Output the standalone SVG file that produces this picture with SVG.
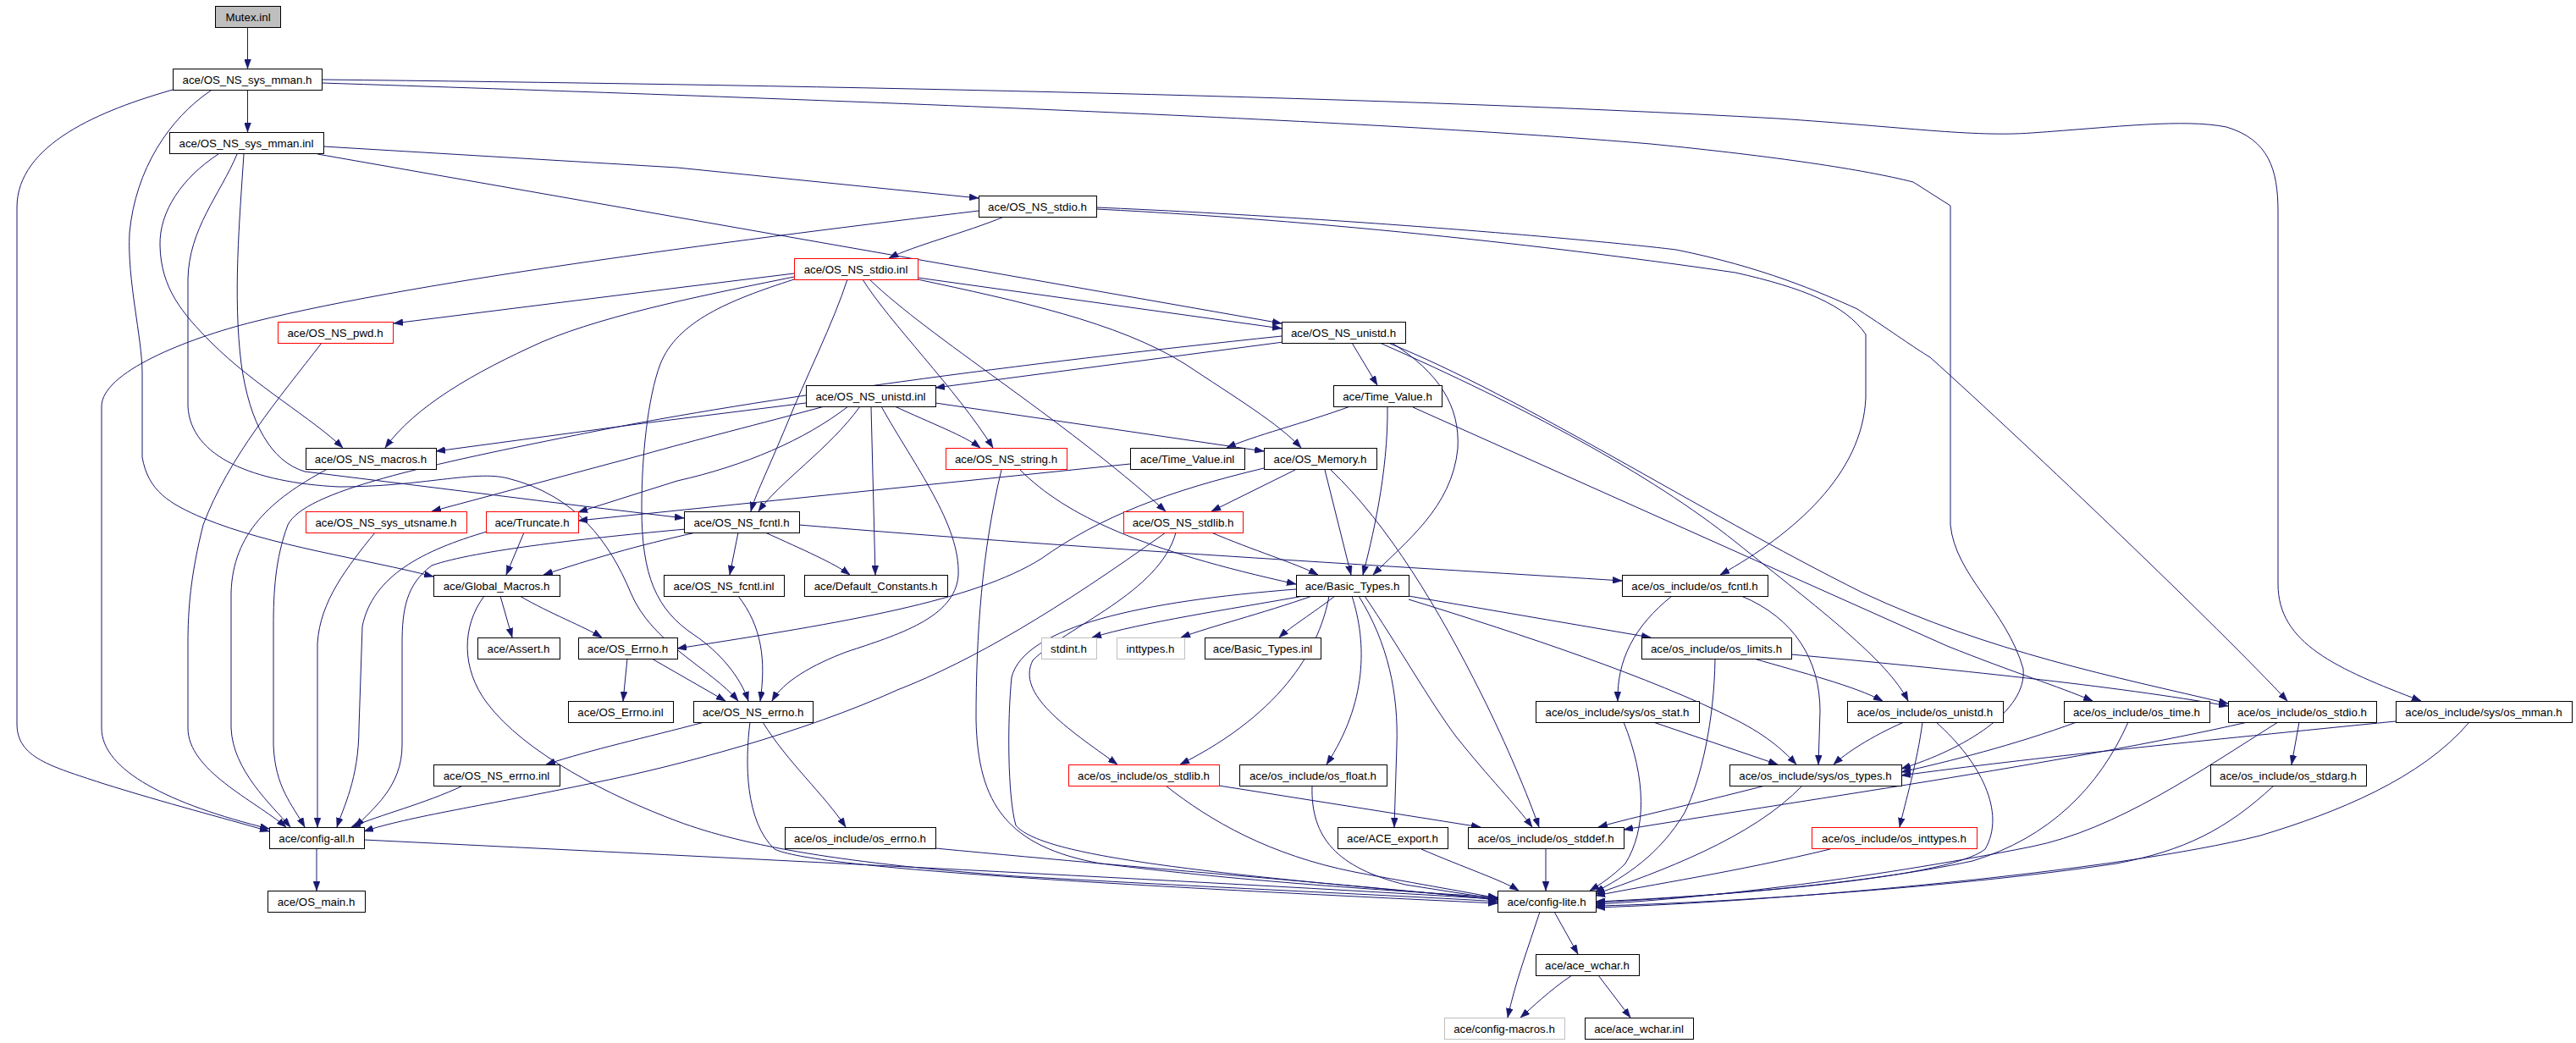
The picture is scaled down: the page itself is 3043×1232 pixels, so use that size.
<svg xmlns="http://www.w3.org/2000/svg" width="3043" height="1232" viewBox="0 0 3043 1232">
<style>
rect{fill:#fff;stroke:#000;stroke-width:1}
.red rect{stroke:#f00}
.gry rect{stroke:#bfbfbf}
.root rect{fill:#bfbfbf}
text{font-family:"Liberation Sans",Arial,sans-serif;font-size:13.3px;text-anchor:middle;fill:#000}
#edges path{fill:none;stroke:#191970;stroke-width:1;marker-end:url(#a)}
</style>
<defs>
<marker id="a" viewBox="0 0 11 8" refX="11" refY="4" markerWidth="11" markerHeight="8" markerUnits="userSpaceOnUse" orient="auto"><path d="M0,0 L11,4 L0,8 z" fill="#191970" stroke="#191970" stroke-width="0.5"/></marker>
</defs>
<rect x="0" y="0" width="3043" height="1232" style="stroke:none;fill:#fff"/>
<g id="edges">
<path d="M292.5,32 L292.5,81"/>
<path d="M292.5,107 L292.5,156"/>
<path d="M204,106 C120,130 20,170 20,245 L20,855 C20,895 60,905 120,925 C200,950 260,965 318,982"/>
<path d="M249,107 C200,140 160,200 153,275 C150,330 168,400 168,440 L168,540 C175,580 200,595 240,612 C320,645 430,660 512,681"/>
<path d="M380,94 C900,100 1600,112 2100,140 C2250,150 2330,162 2400,157 C2500,150 2580,140 2630,150 C2680,165 2691,200 2691,250 L2691,690 C2691,760 2760,790 2860,828"/>
<path d="M380,98 C900,115 1600,140 1950,170 C2100,185 2200,200 2260,215 L2304,243 L2304,620 C2310,680 2370,720 2390,790 C2395,840 2320,885 2246,908"/>
<path d="M382,173 L800,198 L1156,234"/>
<path d="M375,182 L1514,382"/>
<path d="M258,182 C215,210 188,250 189,290 C190,340 215,370 250,405 C300,455 370,495 405,529"/>
<path d="M280,182 C260,230 223,270 222,330 L222,480 C225,540 300,570 400,575 C500,575 560,555 600,565 C680,585 720,640 745,700 C770,760 840,790 872,828"/>
<path d="M288,182 C283,260 275,350 285,430 C295,500 320,545 360,557 L690,598 L808,612"/>
<path d="M1186,256 C1140,275 1080,290 1050,305"/>
<path d="M1156,249 C900,280 500,330 300,380 C220,400 120,440 120,480 L120,860 C120,910 200,950 318,979"/>
<path d="M1295,247 C1600,262 1900,300 2050,322 C2130,340 2180,360 2204,395 L2204,470 C2200,560 2120,630 2032,679"/>
<path d="M1295,245 C1600,258 1900,285 1980,295 C2080,315 2150,345 2194,365 C2240,395 2260,410 2280,422 C2400,530 2620,740 2702,828"/>
<path d="M938,323 L800,340 L465,382"/>
<path d="M938,327 C850,345 720,370 640,404 C560,440 490,480 455,529"/>
<path d="M938,330 C860,355 800,380 780,430 C765,470 758,540 758,600 C758,680 775,720 820,750 C850,770 875,800 884,828"/>
<path d="M1001,330 C985,380 950,450 930,500 C905,560 892,585 887,604"/>
<path d="M1019,330 C1050,380 1130,460 1173,529"/>
<path d="M1027,330 C1100,400 1250,490 1377,604"/>
<path d="M1084,328 L1514,388"/>
<path d="M1084,330 C1200,355 1320,380 1400,430 C1460,470 1510,500 1537,529"/>
<path d="M380,405 C330,470 270,540 240,620 C225,680 222,720 222,760 L222,860 C222,910 300,945 338,977"/>
<path d="M1516,404 L1105,458"/>
<path d="M1597,405 L1627,455"/>
<path d="M1644,405 C1700,440 1725,480 1722,530 C1715,600 1660,640 1622,679"/>
<path d="M1514,397 C1200,430 900,470 700,510 C500,550 360,580 340,620 C325,660 323,700 323,740 L323,880 C325,930 345,950 360,977"/>
<path d="M1630,405 C1800,480 1950,560 2050,640 C2150,720 2230,780 2254,828"/>
<path d="M1640,405 C1800,470 2000,600 2200,700 C2350,770 2500,800 2632,831"/>
<path d="M1669,481 L2300,763 C2380,795 2430,810 2472,828"/>
<path d="M952,476 L760,500 L515,533"/>
<path d="M974,480 C900,500 820,520 760,537 L510,604"/>
<path d="M1002,480 C950,520 880,550 800,568 L683,605"/>
<path d="M1016,480 C980,530 920,570 896,604"/>
<path d="M1029,480 L1034,679"/>
<path d="M1041,480 C1080,550 1135,620 1132,680 C1128,730 1060,750 1000,770 C960,785 925,805 912,828"/>
<path d="M1057,480 C1100,500 1140,515 1158,529"/>
<path d="M1105,476 L1493,533"/>
<path d="M1595,480 C1540,500 1480,515 1449,529"/>
<path d="M1639,480 C1640,560 1620,640 1610,679"/>
<path d="M1335,548 L683,615"/>
<path d="M1565,555 L1596,679"/>
<path d="M1530,555 L1431,604"/>
<path d="M1493,553 C1380,580 1300,610 1230,660 C1150,710 1000,735 800,766"/>
<path d="M1572,555 C1640,620 1700,720 1750,820 C1780,880 1805,940 1818,977"/>
<path d="M1205,555 C1260,610 1350,650 1531,690"/>
<path d="M1183,555 C1160,650 1153,750 1153,850 C1155,950 1190,1000 1300,1020 C1500,1045 1700,1055 1769,1060"/>
<path d="M1431,629 C1480,650 1530,665 1557,679"/>
<path d="M1377,629 C1250,720 1150,780 1060,815 C950,865 800,905 700,925 C580,950 480,965 430,982"/>
<path d="M1389,629 C1370,700 1260,740 1220,780 C1200,820 1260,860 1320,903"/>
<path d="M810,625 C700,635 560,650 510,668 C480,690 475,720 475,760 L475,880 C475,930 440,955 420,977"/>
<path d="M822,629 C750,645 700,660 642,679"/>
<path d="M872,629 L862,679"/>
<path d="M904,629 C950,650 985,665 1004,679"/>
<path d="M944,620 C1300,650 1700,672 1916,686"/>
<path d="M619,629 L598,679"/>
<path d="M575,628 C500,650 440,680 428,740 L424,860 C424,920 405,955 398,977"/>
<path d="M443,629 C410,670 378,710 375,760 L375,977"/>
<path d="M385,555 C320,590 275,630 273,700 L273,860 C275,910 320,950 343,977"/>
<path d="M591,704 L605,753"/>
<path d="M614,704 C650,725 690,740 711,753"/>
<path d="M572,704 C545,740 545,790 575,830 C620,890 720,940 800,970 C880,1000 1000,1020 1200,1035 C1500,1052 1700,1060 1769,1065"/>
<path d="M741,778 L736,828"/>
<path d="M770,778 L857,828"/>
<path d="M872,704 C900,740 905,780 898,828"/>
<path d="M832,853 C760,872 700,885 645,903"/>
<path d="M886,853 C880,900 880,970 915,1003 C960,1025 1300,1045 1769,1067"/>
<path d="M901,853 C930,900 975,940 999,977"/>
<path d="M547,928 C500,950 450,962 415,977"/>
<path d="M374,1003 L374,1052"/>
<path d="M430,992 C900,1015 1400,1040 1769,1062"/>
<path d="M1105,1002 C1400,1030 1600,1045 1769,1063"/>
<path d="M1377,928 C1430,970 1500,1010 1600,1030 C1680,1045 1740,1055 1769,1061"/>
<path d="M1440,928 L1749,977"/>
<path d="M1550,928 C1548,990 1580,1025 1660,1045 L1769,1062"/>
<path d="M1679,1003 C1730,1025 1775,1040 1794,1052"/>
<path d="M1826,1003 L1826,1052"/>
<path d="M1918,853 C1945,920 1945,980 1920,1020 C1905,1035 1890,1045 1878,1052"/>
<path d="M1953,853 L2100,903"/>
<path d="M2085,928 C2000,950 1930,965 1888,977"/>
<path d="M2129,928 C2070,990 1960,1030 1885,1056"/>
<path d="M2026,778 C2025,850 2010,920 1990,960 C1960,1010 1920,1035 1884,1054"/>
<path d="M2072,778 C2130,795 2190,810 2224,828"/>
<path d="M2116,773 C2300,790 2500,810 2632,834"/>
<path d="M1975,704 C1930,740 1910,780 1911,828"/>
<path d="M2057,704 C2120,730 2150,780 2150,840 L2148,903"/>
<path d="M1540,704 C1450,720 1350,735 1290,753"/>
<path d="M1550,704 C1490,725 1430,740 1395,753"/>
<path d="M1577,704 C1550,725 1525,740 1511,753"/>
<path d="M1664,704 L1950,753"/>
<path d="M1664,708 C1800,750 1950,800 2050,850 C2090,870 2110,890 2122,903"/>
<path d="M1597,704 C1615,760 1615,830 1567,903"/>
<path d="M1605,704 C1640,760 1652,820 1650,880 L1647,977"/>
<path d="M1612,704 C1650,760 1690,830 1720,870 C1760,920 1790,950 1810,977"/>
<path d="M1570,704 C1560,760 1520,840 1394,903"/>
<path d="M1531,696 C1350,710 1210,740 1195,800 C1190,850 1190,940 1200,975 C1230,1010 1400,1030 1769,1062"/>
<path d="M1836,1077 L1864,1127"/>
<path d="M1819,1077 C1805,1120 1790,1160 1781,1202"/>
<path d="M1857,1152 C1830,1170 1810,1190 1796,1202"/>
<path d="M1888,1152 L1926,1202"/>
<path d="M2249,853 C2210,870 2180,890 2166,903"/>
<path d="M2271,853 C2265,900 2250,950 2244,977"/>
<path d="M2287,853 C2340,900 2370,960 2345,1003 C2300,1040 2000,1060 1885,1065"/>
<path d="M2453,853 C2380,880 2300,900 2246,912"/>
<path d="M2514,853 C2480,930 2420,990 2330,1017 C2200,1045 2000,1060 1885,1066"/>
<path d="M2655,853 C2450,900 2100,950 1918,980"/>
<path d="M2716,853 L2707,903"/>
<path d="M2691,853 C2600,910 2500,980 2400,1000 C2200,1040 2000,1062 1885,1068"/>
<path d="M2686,928 C2630,980 2580,1005 2500,1020 C2300,1050 2000,1068 1885,1070"/>
<path d="M2830,852 C2600,875 2400,895 2246,916"/>
<path d="M2917,853 C2860,920 2760,960 2670,987 C2500,1030 2100,1065 1885,1072"/>
<path d="M2162,1003 C2050,1030 1950,1045 1885,1058"/>
</g>
<g id="n0" class="root"><rect x="254.5" y="7.5" width="77" height="25"/><text x="293" y="24.5">Mutex.inl</text></g>
<g id="n1"><rect x="204.5" y="81.5" width="176" height="25"/><text x="292" y="98.5">ace/OS_NS_sys_mman.h</text></g>
<g id="n2"><rect x="200.5" y="156.5" width="182" height="25"/><text x="291" y="173.5">ace/OS_NS_sys_mman.inl</text></g>
<g id="n3"><rect x="1156.5" y="231.5" width="139" height="25"/><text x="1225.5" y="248.5">ace/OS_NS_stdio.h</text></g>
<g id="n4" class="red"><rect x="938.5" y="305.5" width="146" height="25"/><text x="1011" y="322.5">ace/OS_NS_stdio.inl</text></g>
<g id="n5" class="red"><rect x="328.5" y="380.5" width="136" height="25"/><text x="396" y="397.5">ace/OS_NS_pwd.h</text></g>
<g id="n6"><rect x="1514.5" y="380.5" width="146" height="25"/><text x="1587" y="397.5">ace/OS_NS_unistd.h</text></g>
<g id="n7"><rect x="952.5" y="455.5" width="153" height="25"/><text x="1028.5" y="472.5">ace/OS_NS_unistd.inl</text></g>
<g id="n8"><rect x="1575.5" y="455.5" width="128" height="25"/><text x="1639" y="472.5">ace/Time_Value.h</text></g>
<g id="n9"><rect x="361.5" y="529.5" width="154" height="25"/><text x="438" y="546.5">ace/OS_NS_macros.h</text></g>
<g id="n10" class="red"><rect x="1117.5" y="529.5" width="143" height="25"/><text x="1188.5" y="546.5">ace/OS_NS_string.h</text></g>
<g id="n11"><rect x="1335.5" y="529.5" width="135" height="25"/><text x="1402.5" y="546.5">ace/Time_Value.inl</text></g>
<g id="n12"><rect x="1493.5" y="529.5" width="133" height="25"/><text x="1559.5" y="546.5">ace/OS_Memory.h</text></g>
<g id="n13" class="red"><rect x="361.5" y="604.5" width="190" height="25"/><text x="456" y="621.5">ace/OS_NS_sys_utsname.h</text></g>
<g id="n14" class="red"><rect x="574.5" y="604.5" width="109" height="25"/><text x="628.5" y="621.5">ace/Truncate.h</text></g>
<g id="n15"><rect x="808.5" y="604.5" width="136" height="25"/><text x="876" y="621.5">ace/OS_NS_fcntl.h</text></g>
<g id="n16" class="red"><rect x="1327.5" y="604.5" width="141" height="25"/><text x="1397.5" y="621.5">ace/OS_NS_stdlib.h</text></g>
<g id="n17"><rect x="512.5" y="679.5" width="149" height="25"/><text x="586.5" y="696.5">ace/Global_Macros.h</text></g>
<g id="n18"><rect x="784.5" y="679.5" width="142" height="25"/><text x="855" y="696.5">ace/OS_NS_fcntl.inl</text></g>
<g id="n19"><rect x="950.5" y="679.5" width="169" height="25"/><text x="1034.5" y="696.5">ace/Default_Constants.h</text></g>
<g id="n20"><rect x="1531.5" y="679.5" width="133" height="25"/><text x="1597.5" y="696.5">ace/Basic_Types.h</text></g>
<g id="n21"><rect x="1916.5" y="679.5" width="172" height="25"/><text x="2002" y="696.5">ace/os_include/os_fcntl.h</text></g>
<g id="n22"><rect x="564.5" y="753.5" width="97" height="25"/><text x="612.5" y="770.5">ace/Assert.h</text></g>
<g id="n23"><rect x="683.5" y="753.5" width="117" height="25"/><text x="741.5" y="770.5">ace/OS_Errno.h</text></g>
<g id="n24" class="gry"><rect x="1230.5" y="753.5" width="65" height="25"/><text x="1262.5" y="770.5">stdint.h</text></g>
<g id="n25" class="gry"><rect x="1319.5" y="753.5" width="80" height="25"/><text x="1359" y="770.5">inttypes.h</text></g>
<g id="n26"><rect x="1423.5" y="753.5" width="137" height="25"/><text x="1491.5" y="770.5">ace/Basic_Types.inl</text></g>
<g id="n27"><rect x="1939.5" y="753.5" width="177" height="25"/><text x="2027.5" y="770.5">ace/os_include/os_limits.h</text></g>
<g id="n28"><rect x="671.5" y="828.5" width="124" height="25"/><text x="733" y="845.5">ace/OS_Errno.inl</text></g>
<g id="n29"><rect x="819.5" y="828.5" width="141" height="25"/><text x="889.5" y="845.5">ace/OS_NS_errno.h</text></g>
<g id="n30"><rect x="1814.5" y="828.5" width="193" height="25"/><text x="1910.5" y="845.5">ace/os_include/sys/os_stat.h</text></g>
<g id="n31"><rect x="2182.5" y="828.5" width="184" height="25"/><text x="2274" y="845.5">ace/os_include/os_unistd.h</text></g>
<g id="n32"><rect x="2438.5" y="828.5" width="172" height="25"/><text x="2524" y="845.5">ace/os_include/os_time.h</text></g>
<g id="n33"><rect x="2632.5" y="828.5" width="175" height="25"/><text x="2719.5" y="845.5">ace/os_include/os_stdio.h</text></g>
<g id="n34"><rect x="2830.5" y="828.5" width="208" height="25"/><text x="2934" y="845.5">ace/os_include/sys/os_mman.h</text></g>
<g id="n35"><rect x="512.5" y="903.5" width="149" height="25"/><text x="586.5" y="920.5">ace/OS_NS_errno.inl</text></g>
<g id="n36" class="red"><rect x="1262.5" y="903.5" width="178" height="25"/><text x="1351" y="920.5">ace/os_include/os_stdlib.h</text></g>
<g id="n37"><rect x="1464.5" y="903.5" width="174" height="25"/><text x="1551" y="920.5">ace/os_include/os_float.h</text></g>
<g id="n38"><rect x="2043.5" y="903.5" width="203" height="25"/><text x="2144.5" y="920.5">ace/os_include/sys/os_types.h</text></g>
<g id="n39"><rect x="2611.5" y="903.5" width="184" height="25"/><text x="2703" y="920.5">ace/os_include/os_stdarg.h</text></g>
<g id="n40"><rect x="318.5" y="977.5" width="112" height="25"/><text x="374" y="994.5">ace/config-all.h</text></g>
<g id="n41"><rect x="927.5" y="977.5" width="178" height="25"/><text x="1016" y="994.5">ace/os_include/os_errno.h</text></g>
<g id="n42"><rect x="1580.5" y="977.5" width="130" height="25"/><text x="1645" y="994.5">ace/ACE_export.h</text></g>
<g id="n43"><rect x="1734.5" y="977.5" width="184" height="25"/><text x="1826" y="994.5">ace/os_include/os_stddef.h</text></g>
<g id="n44" class="red"><rect x="2140.5" y="977.5" width="195" height="25"/><text x="2237.5" y="994.5">ace/os_include/os_inttypes.h</text></g>
<g id="n45"><rect x="316.5" y="1052.5" width="115" height="25"/><text x="373.5" y="1069.5">ace/OS_main.h</text></g>
<g id="n46"><rect x="1769.5" y="1052.5" width="116" height="25"/><text x="1827" y="1069.5">ace/config-lite.h</text></g>
<g id="n47"><rect x="1814.5" y="1127.5" width="122" height="25"/><text x="1875" y="1144.5">ace/ace_wchar.h</text></g>
<g id="n48" class="gry"><rect x="1706.5" y="1202.5" width="142" height="25"/><text x="1777" y="1219.5">ace/config-macros.h</text></g>
<g id="n49"><rect x="1872.5" y="1202.5" width="128" height="25"/><text x="1936" y="1219.5">ace/ace_wchar.inl</text></g>
</svg>
